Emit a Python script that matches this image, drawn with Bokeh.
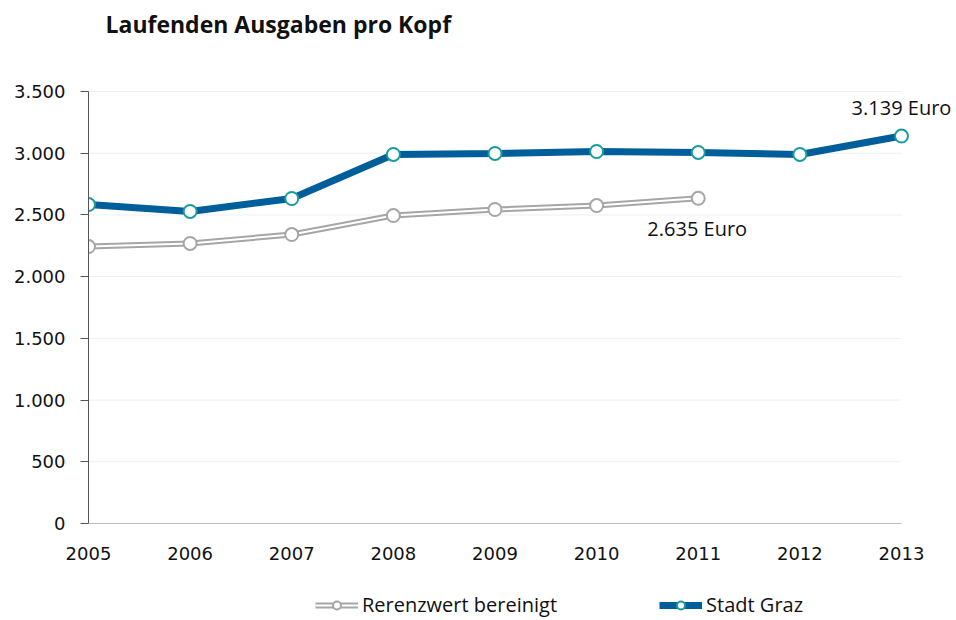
from bokeh.plotting import figure
from bokeh.layouts import column
from bokeh.models import ColumnDataSource, Legend, LegendItem, FixedTicker, Label, Range1d
from bokeh.embed import file_html
from bokeh.resources import INLINE

years = [2005, 2006, 2007, 2008, 2009, 2010, 2011, 2012, 2013]
graz = [2584, 2528, 2633, 2990, 2998, 3014, 3006, 2990, 3139]
ref_years = [2005, 2006, 2007, 2008, 2009, 2010, 2011]
referenz = [2244, 2269, 2341, 2495, 2544, 2576, 2635]
y_ticks = [0, 500, 1000, 1500, 2000, 2500, 3000, 3500]
y_tick_labels = ["0", "500", "1.000", "1.500", "2.000", "2.500", "3.000", "3.500"]
series_names = ["Rerenzwert bereinigt", "Stadt Graz"]
title_text = "Laufenden Ausgaben pro Kopf"
label_graz = "3.139 Euro"
label_ref = "2.635 Euro"

FONT = "Open Sans"
TICKFONT = "DejaVu Sans"
TXT = "#111111"

# ---- layout (pixels) ----
W = 956
H_MAIN = 574
H_LEG = 44
LEFT = 88            # frame left = first year / y axis
X_LAST_PX = 901      # pixel of last year
Y_TOP_PX = 91        # pixel of top y tick
Y_ZERO_PX = 523      # pixel of y = 0
LEGEND_X_PX = 315

px_per_year = (X_LAST_PX - LEFT) / (years[-1] - years[0])
x_end = years[-1] + (W - X_LAST_PX) / px_per_year
units_per_px = (y_ticks[-1] - y_ticks[0]) / (Y_ZERO_PX - Y_TOP_PX)
y_end = y_ticks[-1] + Y_TOP_PX * units_per_px

p = figure(width=W, height=H_MAIN, output_backend="svg", toolbar_location=None,
           x_range=Range1d(years[0], x_end), y_range=Range1d(y_ticks[0], y_end),
           min_border_left=LEFT, min_border_right=0, min_border_top=0,
           min_border_bottom=H_MAIN - Y_ZERO_PX)
p.title.visible = False
p.outline_line_color = None
p.xgrid.grid_line_color = None
p.ygrid.grid_line_color = None

# horizontal gridlines between first and last year only
n_grid = len(y_ticks) - 1
p.segment(x0=[years[0]] * n_grid, x1=[years[-1]] * n_grid,
          y0=y_ticks[1:], y1=y_ticks[1:], line_color="#EFEFEF", line_width=1)

p.yaxis.ticker = FixedTicker(ticks=y_ticks)
p.yaxis.bounds = (y_ticks[0], y_ticks[-1])
p.yaxis.major_label_overrides = {t: l for t, l in zip(y_ticks, y_tick_labels)}
p.yaxis.axis_line_color = "#555555"
p.yaxis.major_tick_line_color = "#555555"
p.yaxis.major_tick_out = 8
p.yaxis.major_tick_in = 0
p.yaxis.minor_tick_line_color = None
p.yaxis.major_label_text_font = TICKFONT
p.yaxis.major_label_text_font_size = "18px"
p.yaxis.major_label_text_color = TXT
p.yaxis.major_label_standoff = 15

p.xaxis.ticker = FixedTicker(ticks=years)
p.xaxis.bounds = (years[0], years[-1])
p.xaxis.axis_line_color = "#BFBFBF"
p.xaxis.major_tick_line_color = None
p.xaxis.major_tick_out = 0
p.xaxis.major_tick_in = 0
p.xaxis.minor_tick_line_color = None
p.xaxis.major_label_text_font = TICKFONT
p.xaxis.major_label_text_font_size = "18px"
p.xaxis.major_label_text_color = TXT
p.xaxis.major_label_standoff = 23

src_ref = ColumnDataSource(dict(x=ref_years, y=referenz))
src_graz = ColumnDataSource(dict(x=years, y=graz))

def draw_series(fig):
    a = fig.line("x", "y", source=src_ref, line_color="#A6A6A6", line_width=6)
    b = fig.line("x", "y", source=src_ref, line_color="white", line_width=2)
    c = fig.scatter("x", "y", source=src_ref, size=13, fill_color="white",
                    line_color="#A6A6A6", line_width=2)
    d = fig.line("x", "y", source=src_graz, line_color="#005F9A", line_width=7)
    e = fig.scatter("x", "y", source=src_graz, size=13, fill_color="white",
                    line_color="#1A9C9C", line_width=2)
    return [a, b, c], [d, e]

draw_series(p)

# title
p.add_layout(Label(x=years[0], y=y_end, text=title_text, text_font=FONT,
                   text_font_style="bold", text_font_size="23px", text_color=TXT,
                   text_align="left", text_baseline="middle", x_offset=17, y_offset=-23))

# end-value labels
p.add_layout(Label(x=years[-1], y=graz[-1], text=label_graz, text_font=FONT,
                   text_font_size="20px", text_align="center", text_baseline="middle",
                   y_offset=29, text_color=TXT))
p.add_layout(Label(x=ref_years[-1], y=referenz[-1], text=label_ref, text_font=FONT,
                   text_font_size="20px", text_align="center", text_baseline="middle",
                   x_offset=-1, y_offset=-30, text_color=TXT))

# ---- legend strip: same series drawn outside its visible range ----
p2 = figure(width=W, height=H_LEG, output_backend="svg", toolbar_location=None,
            x_range=Range1d(0, 1), y_range=Range1d(0, 1),
            x_axis_location=None, y_axis_location=None, min_border=0)
p2.outline_line_color = None
p2.grid.visible = False
ref_r, graz_r = draw_series(p2)

legend = Legend(items=[
    LegendItem(label=series_names[0], renderers=ref_r),
    LegendItem(label=series_names[1], renderers=graz_r),
], orientation="horizontal", location=(LEGEND_X_PX - LEFT, 0), spacing=102,
    label_text_font=FONT, label_text_font_size="20px", label_text_color=TXT,
    glyph_width=43, label_standoff=4, border_line_color=None, background_fill_alpha=0,
    margin=0, padding=0)
p2.add_layout(legend, "center")

layout = column(p, p2, spacing=0)
open("out.html", "w").write(file_html(layout, INLINE))
